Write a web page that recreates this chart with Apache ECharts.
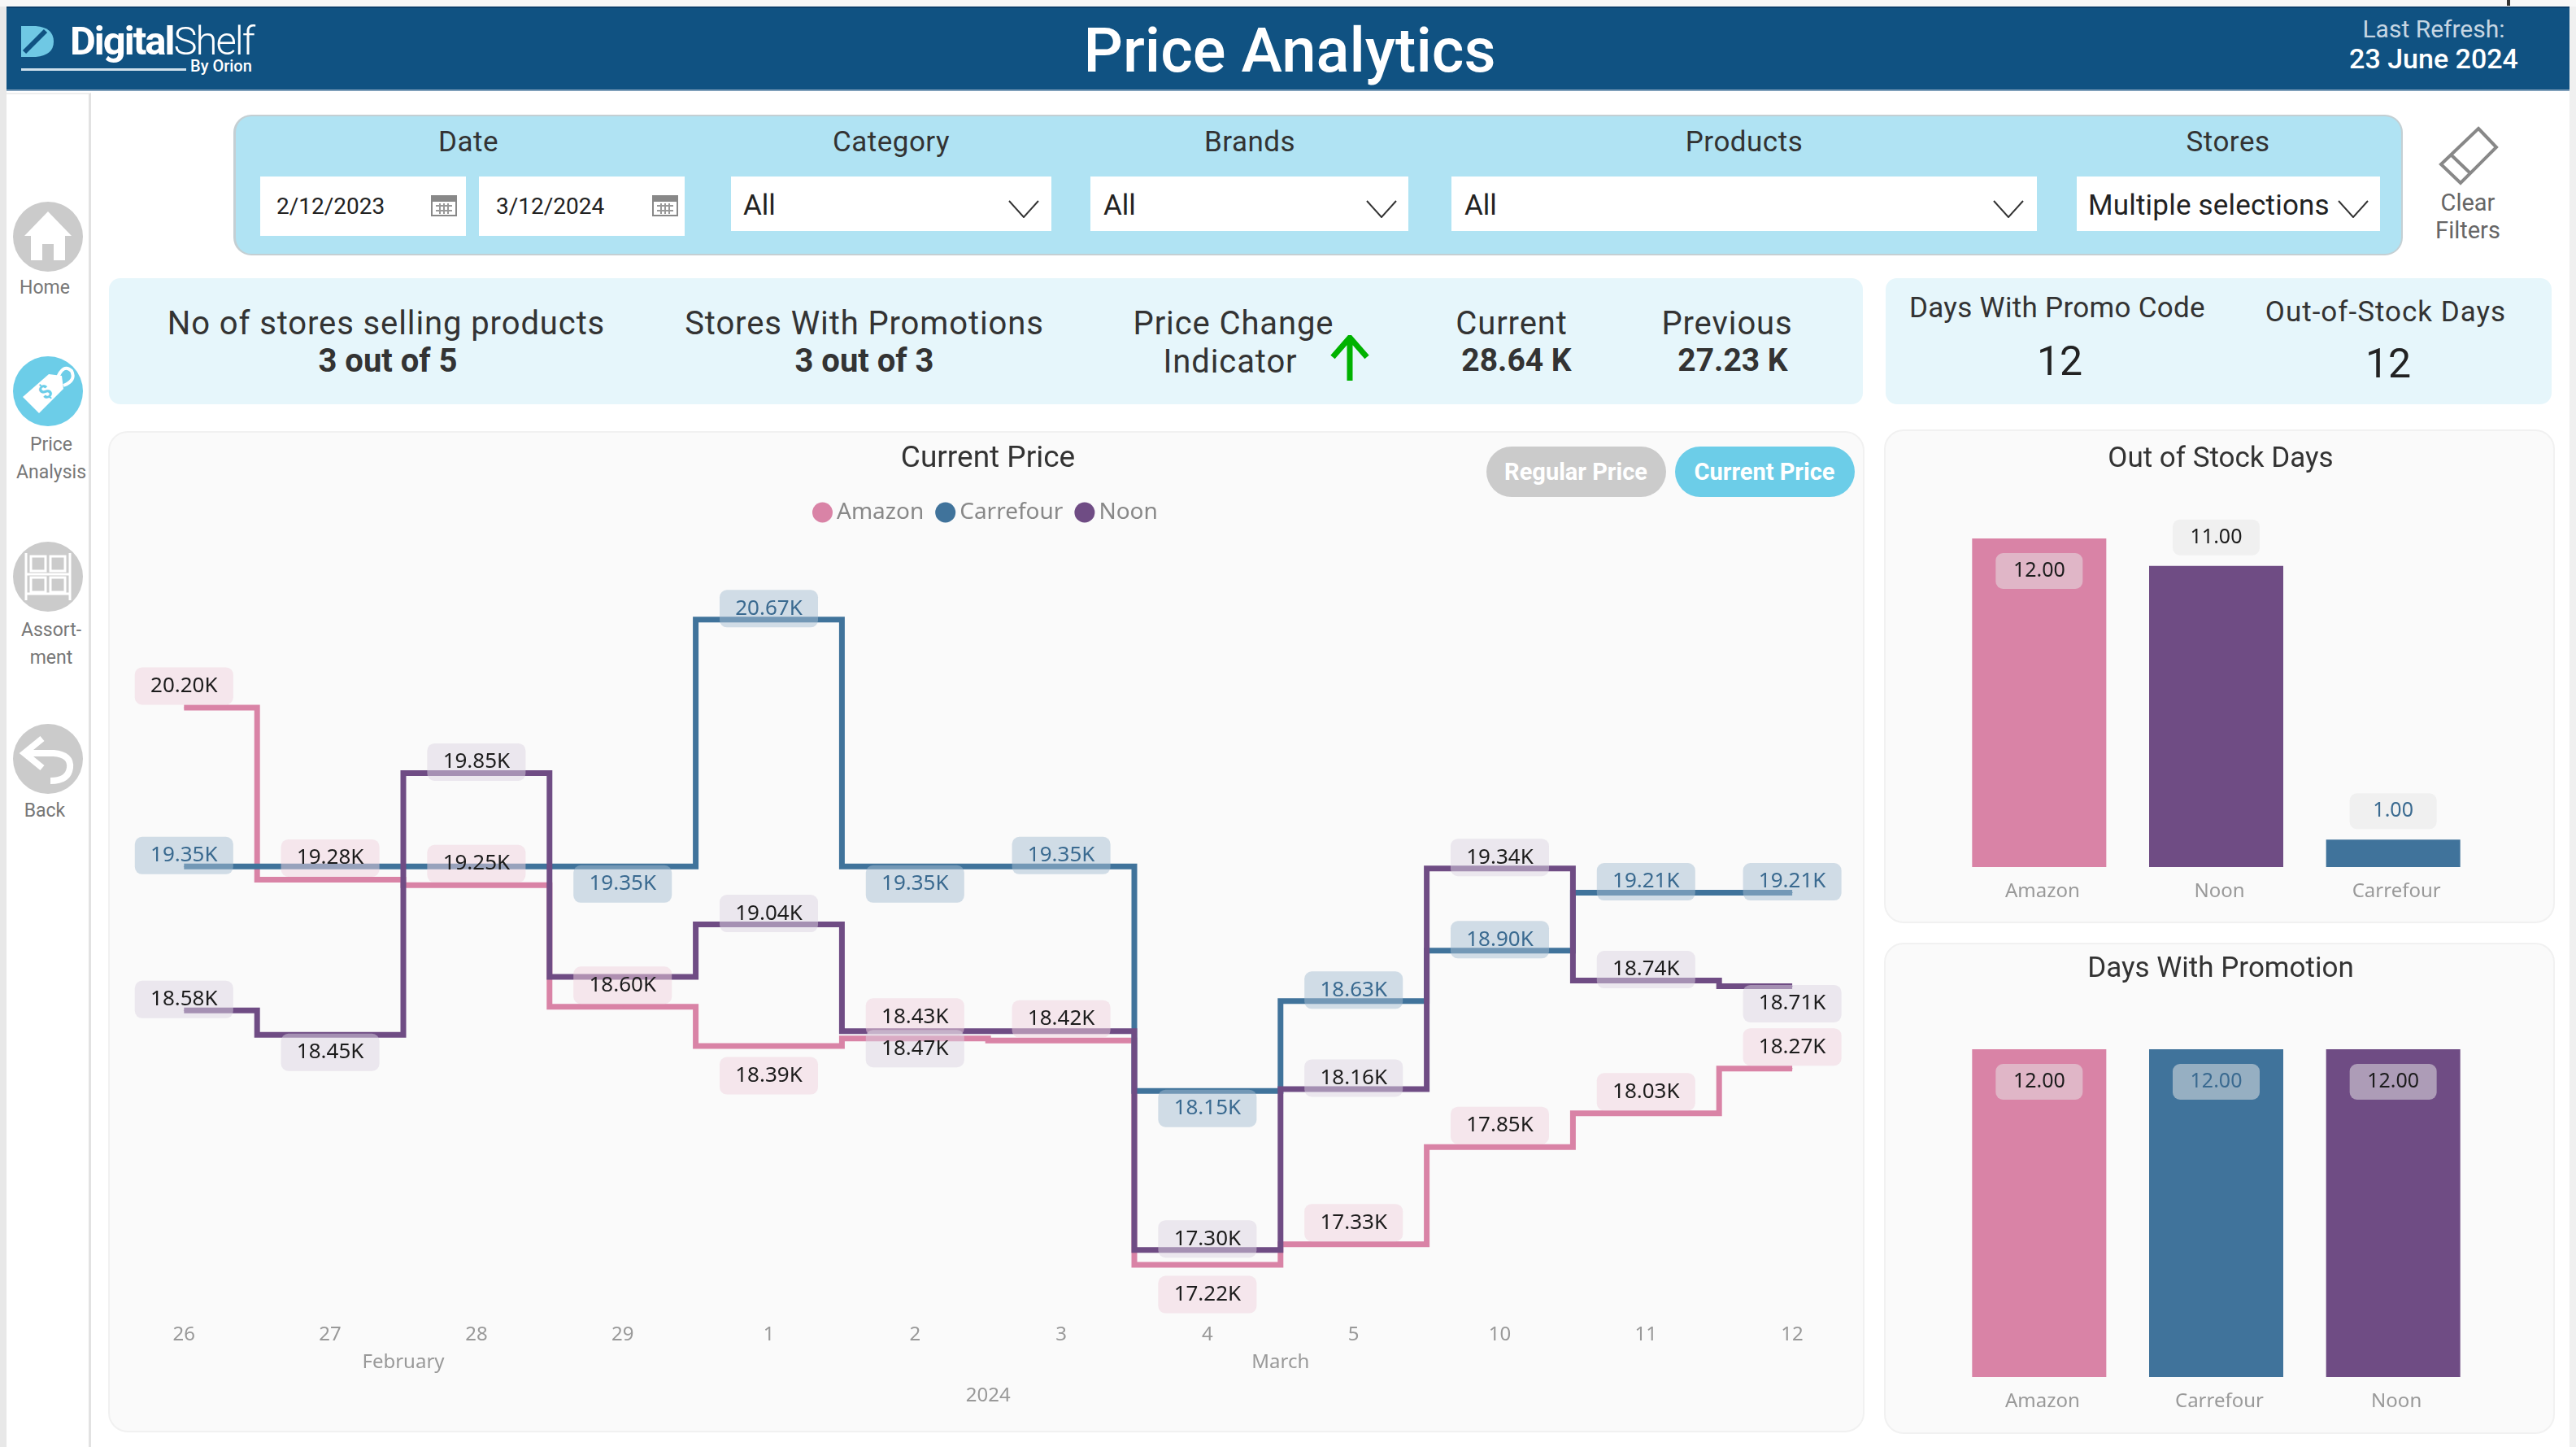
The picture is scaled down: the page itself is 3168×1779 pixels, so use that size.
<!DOCTYPE html>
<html>
<head>
<meta charset="utf-8">
<title>Price Analytics</title>
<script src="https://cdn.jsdelivr.net/npm/echarts@6/dist/echarts.min.js"></script>
<style>
  html, body { margin: 0; padding: 0; background: #fff; }
  #page { position: relative; width: 3168px; height: 1779px; overflow: hidden; font-family: Roboto, sans-serif; color: #333; }
  #page div, #page svg { position: absolute; }
  .t { transform: translate(-50%, -50%); white-space: nowrap; }
  .l { transform: translateY(-50%); white-space: nowrap; }
  .box { background: #fff; }
  .card { background: #fafafa; border: 2px solid #f1f1f1; border-radius: 24px; box-sizing: border-box; }
  .f { font-size: 35px; letter-spacing: 0.5px; }
  .k { font-size: 40px; letter-spacing: 0.9px; }
  .v { font-size: 39px; font-weight: 700; }
  #chart { left: 0; top: 0; width: 3168px; height: 1779px; }
</style>
</head>
<body>
<div id="page">
  <div style="left:0;top:0;width:3168px;height:8px;background:#f7f7f7"></div>
  <div style="left:3083px;top:0;width:4px;height:7px;background:#333"></div>
  <div style="left:0;top:8px;width:8px;height:1771px;background:#e8e8e8"></div>
  <div style="left:3160px;top:8px;width:8px;height:1771px;background:#f0f0f0"></div>
  <div style="left:8px;top:8px;width:3152px;height:104px;background:#105282;border-top:2px solid #0a3f6c;border-bottom:2px solid #7f9fba;box-sizing:border-box"></div>
  <div style="left:8px;top:114px;width:104px;height:1665px;background:#fff;border-right:3px solid #e2e2e2;border-top:2px solid #eee;box-sizing:border-box"></div>

  <!-- logo -->
  <svg style="left:26px;top:32px" width="42" height="38" viewBox="0 0 42 38">
    <path d="M0 0 H18 Q40 2 40 19 Q40 36 18 38 H0 Z" fill="#6fc8e4"/>
    <path d="M30 6 L4 32" stroke="#105282" stroke-width="6"/>
  </svg>
  <div class="l" style="left:86px;top:50px;font-size:49px;color:#fff;letter-spacing:-2px"><b style="font-weight:700">Digital</b><span style="font-weight:300">Shelf</span></div>
  <div style="left:26px;top:84px;width:203px;height:3px;background:#cfe0ec"></div>
  <div class="l" style="left:234px;top:81px;font-size:20px;font-weight:500;color:#fff">By Orion</div>

  <div class="t" style="left:1586px;top:62px;font-size:76px;color:#fff;font-weight:500">Price Analytics</div>
  <div class="t" style="left:2993px;top:35px;font-size:30px;color:#c6d6e3">Last Refresh:</div>
  <div class="t" style="left:2993px;top:72px;font-size:34px;color:#fff;font-weight:500">23 June 2024</div>

  <!-- side nav -->
  <svg style="left:16px;top:248px" width="86" height="86" viewBox="0 0 86 86">
    <circle cx="43" cy="43" r="43" fill="#cbcbcb"/>
    <path d="M43 12 L72 42 H64 V72 H50 V52 H36 V72 H22 V42 H14 Z" fill="#fff"/>
  </svg>
  <svg style="left:16px;top:438px" width="86" height="86" viewBox="0 0 86 86">
    <circle cx="43" cy="43" r="43" fill="#6ccde8"/>
    <path d="M12 50 L44 22 L60 24 L62 40 L32 70 Z" fill="#fff"/>
    <path d="M54 28 Q62 8 72 18 Q78 30 62 36" fill="none" stroke="#fff" stroke-width="4"/>
    <text x="36" y="56" font-size="24" fill="#6ccde8" font-weight="700" transform="rotate(-40 36 50)">$</text>
  </svg>
  <svg style="left:16px;top:666px" width="86" height="86" viewBox="0 0 86 86">
    <circle cx="43" cy="43" r="43" fill="#cbcbcb"/>
    <g fill="none" stroke="#fff" stroke-width="3">
      <path d="M16 14 V72 M70 14 V72 M16 40 H70 M16 64 H70"/>
      <rect x="22" y="18" width="18" height="18"/><rect x="46" y="18" width="18" height="18"/>
      <rect x="22" y="44" width="18" height="18"/><rect x="46" y="44" width="18" height="18"/>
    </g>
  </svg>
  <svg style="left:16px;top:890px" width="86" height="86" viewBox="0 0 86 86">
    <circle cx="43" cy="43" r="43" fill="#cbcbcb"/>
    <path d="M36 18 L14 36 L36 54 M14 36 H50 Q72 38 70 54 Q68 70 46 70" fill="none" stroke="#fff" stroke-width="8"/>
  </svg>
  <div class="t" style="left:55px;top:353px;font-size:23px;color:#777">Home</div>
  <div class="t" style="left:63px;top:546px;font-size:23px;color:#777">Price</div>
  <div class="t" style="left:63px;top:580px;font-size:23px;color:#777">Analysis</div>
  <div class="t" style="left:63px;top:774px;font-size:23px;color:#777">Assort-</div>
  <div class="t" style="left:63px;top:808px;font-size:23px;color:#777">ment</div>
  <div class="t" style="left:55px;top:996px;font-size:23px;color:#777">Back</div>

  <!-- filters -->
  <div style="left:287px;top:141px;width:2668px;height:173px;background:#b0e3f3;border-radius:22px;border:2px solid #c4cfd3;border-left-width:3px;box-sizing:border-box"></div>
  <div class="t f" style="left:576px;top:174px">Date</div>
  <div class="t f" style="left:1096px;top:174px">Category</div>
  <div class="t f" style="left:1537px;top:174px">Brands</div>
  <div class="t f" style="left:2145px;top:174px">Products</div>
  <div class="t f" style="left:2740px;top:174px">Stores</div>
  <div class="box" style="left:320px;top:217px;width:253px;height:73px"></div>
  <div class="box" style="left:589px;top:217px;width:253px;height:73px"></div>
  <div class="box" style="left:899px;top:217px;width:394px;height:67px"></div>
  <div class="box" style="left:1341px;top:217px;width:391px;height:67px"></div>
  <div class="box" style="left:1785px;top:217px;width:720px;height:67px"></div>
  <div class="box" style="left:2554px;top:217px;width:373px;height:67px"></div>
  <div class="l" style="left:340px;top:253px;font-size:28px;color:#222">2/12/2023</div>
  <div class="l" style="left:610px;top:253px;font-size:28px;color:#222">3/12/2024</div>
  <div class="l" style="left:914px;top:252px;font-size:35px;color:#222">All</div>
  <div class="l" style="left:1357px;top:252px;font-size:35px;color:#222">All</div>
  <div class="l" style="left:1801px;top:252px;font-size:35px;color:#222">All</div>
  <div class="l" style="left:2568px;top:252px;font-size:35px;letter-spacing:0.2px;color:#222">Multiple selections</div>
  <svg style="left:530px;top:238px" width="32" height="28" viewBox="0 0 32 28"><rect x="1" y="3" width="30" height="24" fill="#fff" stroke="#888" stroke-width="2"/><rect x="1" y="3" width="30" height="7" fill="#888"/><path d="M6 15 H26 M6 21 H26 M11 12 V25 M16 12 V25 M21 12 V25" stroke="#999" stroke-width="2"/></svg>
  <svg style="left:802px;top:238px" width="32" height="28" viewBox="0 0 32 28"><rect x="1" y="3" width="30" height="24" fill="#fff" stroke="#888" stroke-width="2"/><rect x="1" y="3" width="30" height="7" fill="#888"/><path d="M6 15 H26 M6 21 H26 M11 12 V25 M16 12 V25 M21 12 V25" stroke="#999" stroke-width="2"/></svg>
  <svg style="left:1240px;top:246px" width="38" height="22" viewBox="0 0 38 22"><path d="M1 1 L19 21 L37 1" fill="none" stroke="#333" stroke-width="2"/></svg>
  <svg style="left:1680px;top:246px" width="38" height="22" viewBox="0 0 38 22"><path d="M1 1 L19 21 L37 1" fill="none" stroke="#333" stroke-width="2"/></svg>
  <svg style="left:2451px;top:246px" width="38" height="22" viewBox="0 0 38 22"><path d="M1 1 L19 21 L37 1" fill="none" stroke="#333" stroke-width="2"/></svg>
  <svg style="left:2875px;top:246px" width="38" height="22" viewBox="0 0 38 22"><path d="M1 1 L19 21 L37 1" fill="none" stroke="#333" stroke-width="2"/></svg>
  <svg style="left:2998px;top:155px" width="76" height="74" viewBox="0 0 76 74">
    <path d="M50 3 L72 26 L28 70 L4 47 Z M16 35 L40 58" fill="none" stroke="#888" stroke-width="4"/>
  </svg>
  <div class="t" style="left:3035px;top:249px;font-size:29px;color:#666">Clear</div>
  <div class="t" style="left:3035px;top:283px;font-size:29px;color:#666">Filters</div>

  <!-- kpi strip -->
  <div style="left:134px;top:342px;width:2157px;height:155px;background:#e6f6fb;border-radius:14px"></div>
  <div style="left:2319px;top:342px;width:819px;height:155px;background:#e6f6fb;border-radius:14px"></div>
  <div class="t k" style="left:475px;top:397px">No of stores selling products</div>
  <div class="t v" style="left:477px;top:443px;font-size:40px">3 out of 5</div>
  <div class="t k" style="left:1063px;top:397px">Stores With Promotions</div>
  <div class="t v" style="left:1063px;top:443px;font-size:40px">3 out of 3</div>
  <div class="t k" style="left:1517px;top:397px">Price Change</div>
  <div class="t k" style="left:1513px;top:444px">Indicator</div>
  <svg style="left:1636px;top:412px" width="48" height="58" viewBox="0 0 48 58"><path d="M24 56 V3 M3 27 L24 3 L45 27" fill="none" stroke="#00b200" stroke-width="7"/></svg>
  <div class="t k" style="left:1859px;top:397px">Current</div>
  <div class="t v" style="left:1865px;top:443px">28.64 K</div>
  <div class="t k" style="left:2124px;top:397px">Previous</div>
  <div class="t v" style="left:2131px;top:443px">27.23 K</div>
  <div class="t" style="left:2530px;top:378px;font-size:35px;letter-spacing:0.3px">Days With Promo Code</div>
  <div class="t" style="left:2533px;top:444px;font-size:50px;color:#222">12</div>
  <div class="t" style="left:2934px;top:383px;font-size:35px;letter-spacing:1px">Out-of-Stock Days</div>
  <div class="t" style="left:2937px;top:447px;font-size:50px;color:#222">12</div>

  <!-- chart cards -->
  <div class="card" style="left:133px;top:530px;width:2160px;height:1231px"></div>
  <div class="card" style="left:2317px;top:528px;width:825px;height:607px"></div>
  <div class="card" style="left:2317px;top:1159px;width:825px;height:604px"></div>
  <div style="left:1828px;top:549px;width:221px;height:62px;background:#cbcbcb;border-radius:31px"></div>
  <div style="left:2060px;top:549px;width:221px;height:62px;background:#6ccde8;border-radius:31px"></div>
  <div class="t" style="left:1938px;top:580px;font-size:29px;font-weight:700;color:#fff">Regular Price</div>
  <div class="t" style="left:2170px;top:580px;font-size:29px;font-weight:700;color:#fff">Current Price</div>

  <div id="chart"></div>
</div>
<script>
// line chart data
const stores = ['Amazon', 'Carrefour', 'Noon']
const days = ['26', '27', '28', '29', '1', '2', '3', '4', '5', '10', '11', '12']
const monthNames = ['February', 'March']
const monthDayCounts = [4, 8]
const yearLabel = '2024'
const amazonPrice = [20200, 19280, 19250, 18600, 18390, 18430, 18420, 17220, 17330, 17850, 18030, 18270]
const carrefourPrice = [19350, 19350, 19350, 19350, 20670, 19350, 19350, 18150, 18630, 18900, 19210, 19210]
const noonPrice = [18580, 18450, 19850, 18760, 19040, 18470, 18470, 17300, 18160, 19340, 18740, 18710]

// which side of the line each price label sits on, null = not shown
const amazonSides = ['top', 'top', 'top', 'top', 'bottom', 'top', 'top', 'bottom', 'top', 'top', 'top', 'top']
const carrefourSides = ['top', null, null, 'bottom', 'top', 'bottom', 'top', 'bottom', 'top', 'top', 'top', 'top']
const noonSides = ['top', 'bottom', 'top', null, 'top', 'bottom', null, 'top', 'top', 'top', 'top', 'bottom']

// bar chart data
const outOfStockStores = ['Amazon', 'Noon', 'Carrefour']
const outOfStockDays = [12, 11, 1]
const promoStores = ['Amazon', 'Carrefour', 'Noon']
const promoDays = [12, 12, 12]

const colors = { Amazon: '#d983a6', Carrefour: '#40739b', Noon: '#6f4c84' }
const labelBg = { Amazon: 'rgba(240,210,222,0.5)', Carrefour: 'rgba(166,190,210,0.5)', Noon: 'rgba(220,212,226,0.5)' }
const textColors = { Amazon: '#1c1c1c', Carrefour: '#3a6a90', Noon: '#1c1c1c' }
const labelFont = '"Noto Sans"'

function priceData(values, sides, store) {
  const above = store === 'Amazon' ? 3 : -10
  const below = store === 'Amazon' ? 13 : -2
  return values.map(function(v, i) {
    if (!sides[i]) return { value: v, label: { show: false } }
    return { value: v, label: { position: sides[i], distance: sides[i] === 'top' ? above : below } }
  })
}

function lineSeries(store, values, sides) {
  return {
    name: store,
    type: 'line',
    step: 'middle',
    xAxisIndex: 0,
    yAxisIndex: 0,
    // a 1px symbol under the line, labels need a symbol to hang on
    symbol: 'circle',
    symbolSize: 1,
    showAllSymbol: true,
    lineStyle: { width: 7, color: colors[store], cap: 'butt', join: 'miter' },
    itemStyle: { color: colors[store] },
    label: {
      show: true,
      width: 121,
      height: 46,
      lineHeight: 46,
      align: 'center',
      backgroundColor: labelBg[store],
      borderRadius: 9,
      color: textColors[store],
      fontFamily: labelFont,
      fontSize: 26,
      formatter: function(p) { return (p.value / 1000).toFixed(2) + 'K' }
    },
    data: priceData(values, sides, store)
  }
}

function barSeries(name, cats, values, idx) {
  const maxV = 12
  return {
    name: name,
    type: 'bar',
    xAxisIndex: idx,
    yAxisIndex: idx - 2,
    barWidth: 165,
    data: values.map(function(v, i) {
      const inside = v >= maxV
      return {
        value: v,
        itemStyle: { color: colors[cats[i]] },
        label: {
          position: inside ? 'insideTop' : 'top',
          distance: inside ? 18 : 13,
          color: textColors[cats[i]]
        }
      }
    }),
    label: {
      show: true,
      width: 107,
      height: 44,
      lineHeight: 44,
      align: 'center',
      backgroundColor: 'rgba(230,230,230,0.52)',
      borderRadius: 9,
      fontFamily: labelFont,
      fontSize: 25,
      formatter: function(p) { return p.value.toFixed(2) }
    }
  }
}

// month labels sit in the middle of the days they span
let seen = 0
const monthCenters = monthDayCounts.map(function(n) {
  const c = seen + n / 2
  seen += n
  return c
})

function levelAxis(values, names, margin) {
  return {
    type: 'value',
    gridIndex: 0,
    position: 'bottom',
    min: 0,
    max: days.length,
    axisLine: { show: false },
    axisTick: { show: false },
    splitLine: { show: false },
    axisLabel: {
      customValues: values,
      margin: margin,
      color: '#999',
      fontFamily: labelFont,
      fontSize: 24,
      formatter: function(v) { return names[values.indexOf(v)] }
    }
  }
}

function catAxis(cats, grid) {
  return {
    type: 'category',
    gridIndex: grid,
    data: cats,
    axisLine: { show: false },
    axisTick: { show: false },
    axisLabel: { margin: 18, padding: [0, 0, 0, 8], color: '#999', fontFamily: labelFont, fontSize: 24, interval: 0 }
  }
}

function hiddenValue(grid, min, max) {
  return { type: 'value', gridIndex: grid, min: min, max: max, show: false }
}

function cardTitle(text, x, y, size) {
  return {
    text: text,
    left: x,
    top: y,
    textAlign: 'center',
    textVerticalAlign: 'middle',
    textStyle: { fontFamily: 'Roboto', fontSize: size, fontWeight: 400, color: '#333' }
  }
}

const chart = echarts.init(document.getElementById('chart'))
chart.setOption({
  animation: false,
  backgroundColor: 'transparent',
  title: [
    cardTitle('Current Price', 1210, 560, 37),
    cardTitle('Out of Stock Days', 2726, 560, 35),
    cardTitle('Days With Promotion', 2726, 1187, 35)
  ],
  legend: {
    data: stores,
    left: 994,
    top: 611,
    icon: 'circle',
    itemWidth: 25,
    itemHeight: 25,
    itemGap: 14,
    textStyle: { fontFamily: labelFont, fontSize: 28, color: '#888' }
  },
  grid: [
    { left: 136.4, top: 686, width: 2157.6, height: 919.6, outerBoundsMode: 'none' },
    { left: 2399, top: 662, width: 653, height: 404, outerBoundsMode: 'none' },
    { left: 2399, top: 1290, width: 653, height: 403, outerBoundsMode: 'none' }
  ],
  xAxis: [
    {
      type: 'category',
      gridIndex: 0,
      data: days,
      axisLine: { show: false },
      axisTick: { show: false },
      axisLabel: { margin: 24, color: '#999', fontFamily: labelFont, fontSize: 24, interval: 0 }
    },
    levelAxis(monthCenters, monthNames, 58),
    levelAxis([days.length / 2], [yearLabel], 99),
    catAxis(outOfStockStores, 1),
    catAxis(promoStores, 2)
  ],
  yAxis: [
    hiddenValue(0, 17000, 21000),
    hiddenValue(1, 0, 12),
    hiddenValue(2, 0, 12)
  ],
  series: [
    lineSeries('Amazon', amazonPrice, amazonSides),
    lineSeries('Carrefour', carrefourPrice, carrefourSides),
    lineSeries('Noon', noonPrice, noonSides),
    barSeries('Out of Stock Days', outOfStockStores, outOfStockDays, 3),
    barSeries('Days With Promotion', promoStores, promoDays, 4)
  ]
})
</script>
</body>
</html>
